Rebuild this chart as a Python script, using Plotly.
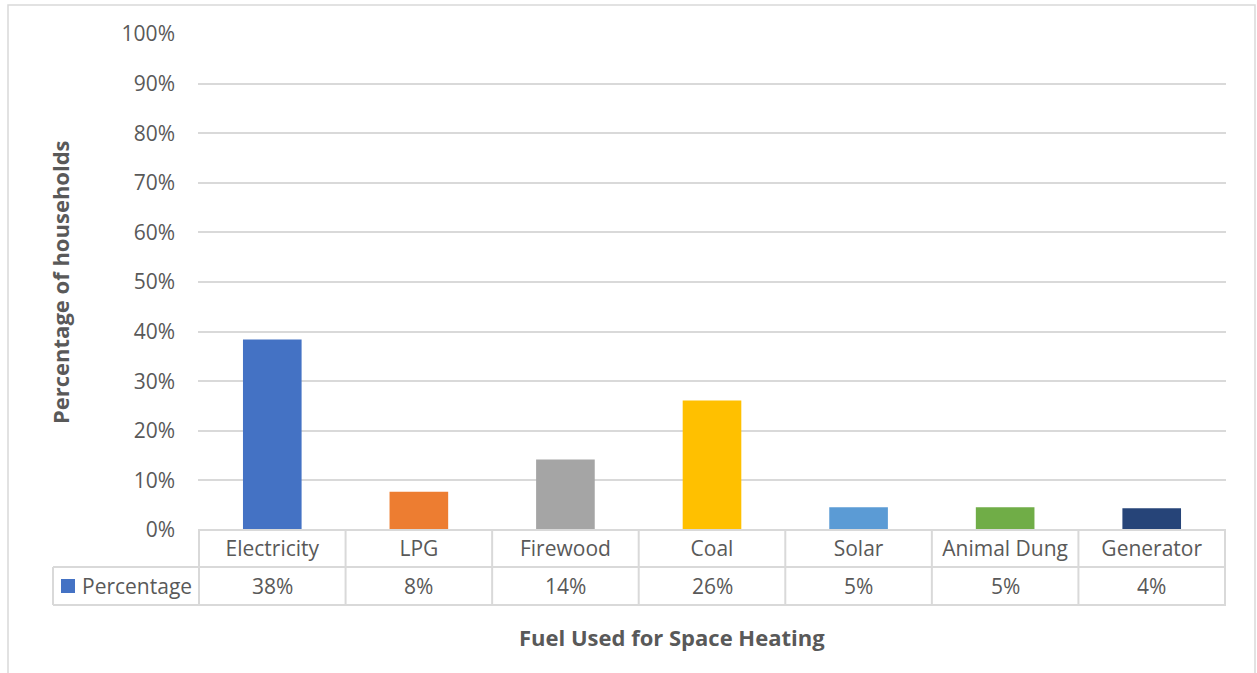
import plotly.graph_objects as go

categories = ["Electricity", "LPG", "Firewood", "Coal", "Solar", "Animal Dung", "Generator"]
values = [38.4, 7.7, 14.2, 26.1, 4.6, 4.6, 4.4]
colors = ["#4472C4", "#ED7D31", "#A5A5A5", "#FFC000", "#5B9BD5", "#70AD47", "#264478"]
series_name = "Percentage"
y_ticks = [0, 10, 20, 30, 40, 50, 60, 70, 80, 90, 100]
y_tick_labels = [f"{t}%" for t in y_ticks]

W, H = 1257, 673
L, R, T, B = 198, 1226, 34, 530
FONT = "Open Sans"
GRAY = "#595959"
LINE = "#D9D9D9"


def px(x):
    return (x - L) / (R - L)


def py(y):
    return (B - y) / (B - T)


fig = go.Figure(
    go.Bar(
        x=categories,
        y=values,
        marker=dict(color=colors, line=dict(width=0)),
        name=series_name,
        showlegend=False,
        hoverinfo="x+y",
    )
)

shapes = []
# outer chart border
shapes.append(dict(type="rect", xref="paper", yref="paper", x0=px(8), x1=px(1255), y0=py(700), y1=py(5),
                   line=dict(color=LINE, width=1.5), layer="below"))
# table horizontal lines
for yy, x0 in [(530, 198), (567, 53), (605, 53)]:
    shapes.append(dict(type="line", xref="paper", yref="paper", x0=px(x0), x1=1, y0=py(yy), y1=py(yy),
                       line=dict(color=LINE, width=2)))
# table vertical lines
shapes.append(dict(type="line", xref="paper", yref="paper", x0=px(53), x1=px(53), y0=py(567), y1=py(605),
                   line=dict(color=LINE, width=2)))
for i in range(len(categories) + 1):
    shapes.append(dict(type="line", xref="x", yref="paper", x0=i - 0.5, x1=i - 0.5, y0=py(530), y1=py(605),
                       line=dict(color=LINE, width=2)))
# legend key
shapes.append(dict(type="rect", xref="paper", yref="paper", x0=px(61), x1=px(75), y0=py(593), y1=py(579),
                   fillcolor=colors[0], line=dict(width=0)))

annotations = []
for c, v in zip(categories, values):
    annotations.append(dict(x=c, y=py(586), xref="x", yref="paper", text=f"{v:.0f}%", showarrow=False,
                            font=dict(family=FONT, size=21, color=GRAY), xanchor="center", yanchor="middle"))
annotations.append(dict(x=px(80), y=py(586), xref="paper", yref="paper", text=series_name, showarrow=False,
                        font=dict(family=FONT, size=21, color=GRAY), xanchor="left", yanchor="middle"))
annotations.append(dict(x=px(60), y=py(282), xref="paper", yref="paper", text="<b>Percentage of households</b>",
                        textangle=-90, showarrow=False, font=dict(family=FONT, size=22, color=GRAY),
                        xanchor="center", yanchor="middle"))
annotations.append(dict(x=px(672), y=py(637), xref="paper", yref="paper", text="<b>Fuel Used for Space Heating</b>",
                        showarrow=False, font=dict(family=FONT, size=22, color=GRAY),
                        xanchor="center", yanchor="middle"))

fig.update_layout(
    width=W, height=H,
    margin=dict(l=L, r=W - R, t=T, b=H - B, autoexpand=False),
    paper_bgcolor="white", plot_bgcolor="white",
    bargap=0.6,
    font=dict(family=FONT, size=21, color=GRAY),
    shapes=shapes,
    annotations=annotations,
    xaxis=dict(showgrid=False, zeroline=False, showline=False, ticks="", tickfont=dict(size=21, color=GRAY),
               ticklabelstandoff=4, fixedrange=True),
    yaxis=dict(range=[0, 100], tickvals=y_ticks, ticktext=y_tick_labels, showgrid=True, gridcolor=LINE,
               gridwidth=2, zeroline=False, showline=False, ticks="", ticklabelstandoff=22,
               tickfont=dict(size=21, color=GRAY), fixedrange=True),
)

fig.write_html(
    "out.html",
    config={"displayModeBar": False},
    post_script="document.body.style.margin='0';document.body.style.overflow='hidden';",
)
